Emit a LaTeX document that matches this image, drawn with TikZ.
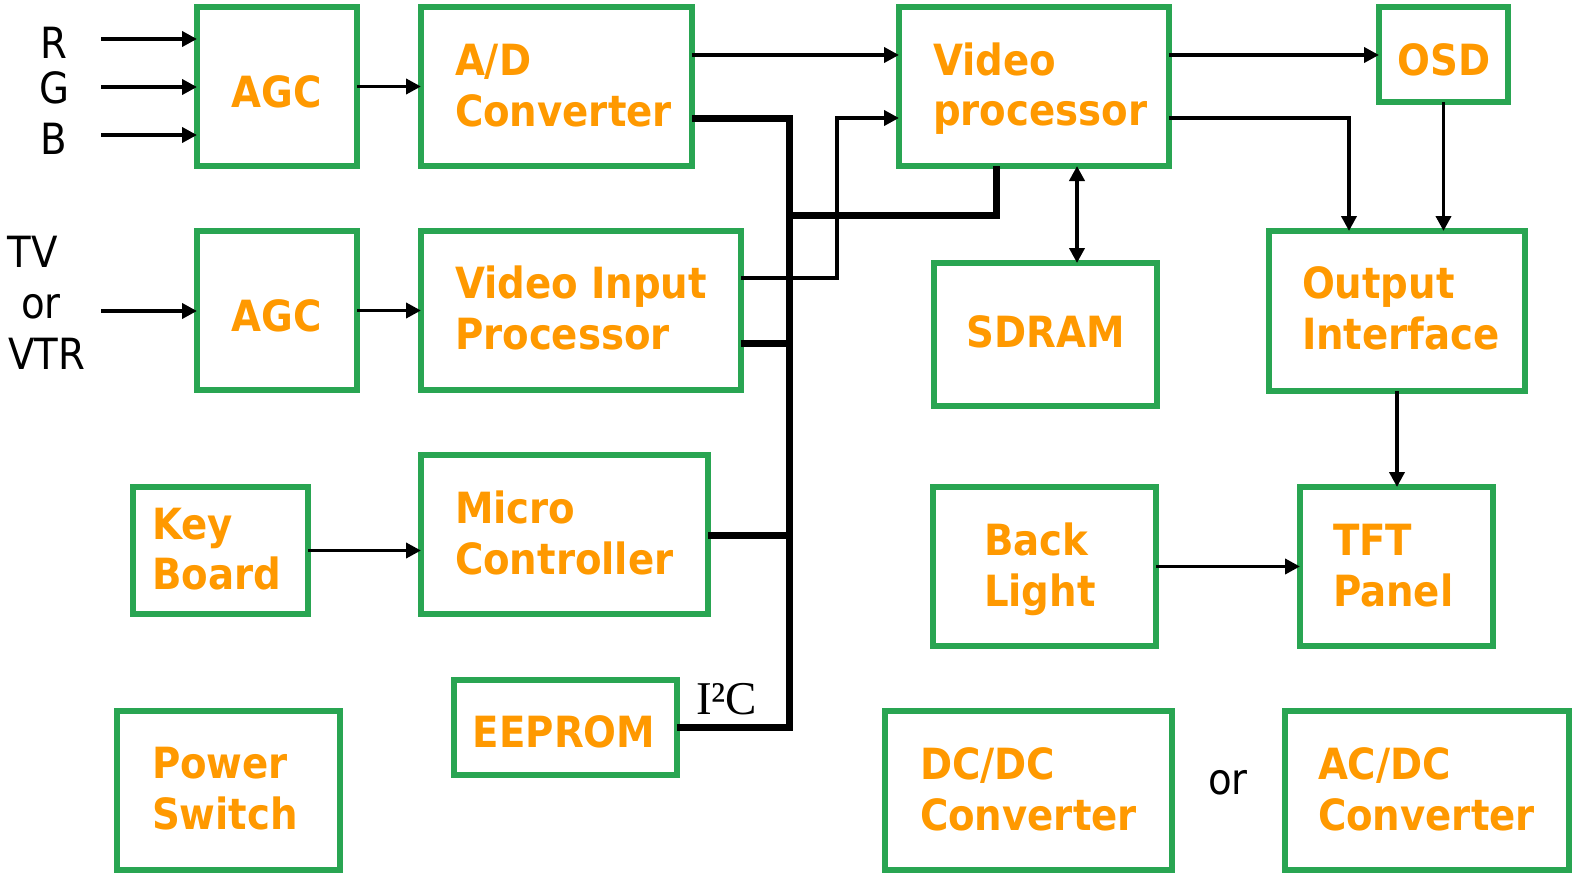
\documentclass[tikz,border=0pt]{standalone}
\usepackage{fontspec}
\setmainfont{DejaVu Sans Condensed}
\newfontfamily\serifI{Liberation Serif}
\usetikzlibrary{arrows.meta}
\definecolor{boxgreen}{RGB}{41,165,82}
\definecolor{txtorange}{RGB}{255,153,0}
\tikzset{
  blk/.style={draw=boxgreen, line width=6pt, inner sep=0pt, outer sep=0pt, fill=none},
  bt/.style={inner sep=0pt, outer sep=0pt, text=txtorange, font=\bfseries\fontsize{43}{51}\selectfont},
  lbl/.style={inner sep=0pt, outer sep=0pt, text=black, font=\fontsize{43}{51}\selectfont},
  arr/.style={line width=3.8pt, -{Triangle[length=15pt,width=15pt]}},
  darr/.style={line width=3.8pt, {Triangle[length=15pt,width=15pt]}-{Triangle[length=15pt,width=15pt]}},
  bus/.style={line width=7pt, line join=miter, line cap=butt}
}
\newcommand{\blkat}[5]{\node[blk, minimum width={(#4-#2)*1pt}, minimum height={(#5-#3)*1pt}] (#1) at ({(#2+#4)/2},{(#3+#5)/2}) {};}
\begin{document}
\begin{tikzpicture}[x=1pt,y=-1pt]
\useasboundingbox (0,0) rectangle (1575,875);
% boxes
\blkat{agc1}{197}{7}{357}{166}
\blkat{ad}{421}{7}{692}{166}
\blkat{vp}{899}{7}{1169}{166}
\blkat{osd}{1379}{7}{1508}{102}
\blkat{agc2}{197}{231}{357}{390}
\blkat{vip}{421}{231}{741}{390}
\blkat{sdram}{934}{263}{1157}{406}
\blkat{oi}{1269}{231}{1525}{391}
\blkat{kb}{133}{487}{308}{614}
\blkat{mc}{421}{455}{708}{614}
\blkat{bl}{933}{487}{1156}{646}
\blkat{tft}{1300}{487}{1493}{646}
\blkat{eeprom}{454}{680}{677}{775}
\blkat{ps}{117}{711}{340}{870}
\blkat{dcdc}{885}{711}{1172}{870}
\blkat{acdc}{1285}{711}{1569}{870}
% box texts
\node[bt, anchor=base] (agc1t) at (277,107) {AGC};
\node[bt, anchor=base west] (adt1) at (455,75) {A/D};
\node[bt, anchor=base west] (adt2) at (455,126) {Converter};
\node[bt, anchor=base west] (vpt1) at (933,75) {Video};
\node[bt, anchor=base west] (vpt2) at (933,125) {processor};
\node[bt, anchor=base] (osdt) at (1444,75) {OSD};
\node[bt, anchor=base] (agc2t) at (277,331) {AGC};
\node[bt, anchor=base west] (vipt1) at (455,298) {Video Input};
\node[bt, anchor=base west] (vipt2) at (455,349) {Processor};
\node[bt, anchor=base] (sdramt) at (1046,347) {SDRAM};
\node[bt, anchor=base west] (oit1) at (1302,298) {Output};
\node[bt, anchor=base west] (oit2) at (1302,349) {Interface};
\node[bt, anchor=base west] (kbt1) at (152,539) {Key};
\node[bt, anchor=base west] (kbt2) at (152,589) {Board};
\node[bt, anchor=base west] (mct1) at (455,523) {Micro};
\node[bt, anchor=base west] (mct2) at (455,574) {Controller};
\node[bt, anchor=base west] (blt1) at (984,555) {Back};
\node[bt, anchor=base west] (blt2) at (984,606) {Light};
\node[bt, anchor=base west] (tftt1) at (1333,555) {TFT};
\node[bt, anchor=base west] (tftt2) at (1333,606) {Panel};
\node[bt, anchor=base] (eepromt) at (564,747) {EEPROM};
\node[bt, anchor=base west] (pst1) at (152,778) {Power};
\node[bt, anchor=base west] (pst2) at (152,829) {Switch};
\node[bt, anchor=base west] (dct1) at (920,779) {DC/DC};
\node[bt, anchor=base west] (dct2) at (920,830) {Converter};
\node[bt, anchor=base west] (act1) at (1318,779) {AC/DC};
\node[bt, anchor=base west] (act2) at (1318,830) {Converter};
% plain labels
\node[lbl, anchor=base] (lr) at (54,59) {R};
\node[lbl, anchor=base] (lg) at (54,103) {G};
\node[lbl, anchor=base] (lb) at (54,154) {B};
\node[lbl, anchor=base] (ltv) at (33,267) {TV};
\node[lbl, anchor=base] (lor1) at (41,318) {or};
\node[lbl, anchor=base] (lvtr) at (47,369) {VTR};
\node[lbl, anchor=base] (lor2) at (1228,794) {or};
\node[inner sep=0pt, anchor=base west, font=\serifI\fontsize{47}{50}\selectfont] (li2c) at (696,714) {I²C};
% coordinates
\coordinate (rin) at (101,39);
\coordinate (gin) at (101,87);
\coordinate (bin) at (101,135);
\coordinate (tvin) at (101,311);
\coordinate (advp) at (800,55);
\coordinate (vposd) at (1250,55);
\coordinate (j1) at (837,278);
\coordinate (j2) at (837,118);
\coordinate (k1) at (1349,118);
\coordinate (m) at (1077,200);
\coordinate (busT) at (789,118);
\coordinate (busB) at (789,727);
\coordinate (busV) at (996,215);
\coordinate (vb) at (789,343);
\coordinate (mb) at (789,535);
% thin arrows
\draw[arr] (rin) -- (rin -| agc1.west);
\draw[arr] (gin) -- (gin -| agc1.west);
\draw[arr] (bin) -- (bin -| agc1.west);
\draw[arr] (tvin) -- (tvin -| agc2.west);
\draw[arr] (agc1.east) -- (agc1.east -| ad.west);
\draw[arr] (agc2.east) -- (agc2.east -| vip.west);
\draw[arr] (advp -| ad.east) -- (advp -| vp.west);
\draw[arr] (vposd -| vp.east) -- (vposd -| osd.west);
\draw[arr] (j1 -| vip.east) -- (j1) -- (j2) -- (j2 -| vp.west);
\draw[arr] (k1 -| vp.east) -- (k1) -- (k1 |- oi.north);
\draw[arr] (osd.south) -- (osd.south |- oi.north);
\draw[darr] (m |- vp.south) -- (m |- sdram.north);
\draw[arr] (oi.south) -- (oi.south |- tft.north);
\draw[arr] (kb.east) -- (kb.east -| mc.west);
\draw[arr] (bl.east) -- (bl.east -| tft.west);
% bus
\draw[bus] (busT -| ad.east) -- (busT) -- (busB) -- (busB -| eeprom.east);
\draw[bus] (busV -| busT) -- (busV) -- (busV |- vp.south);
\draw[bus] (vb -| vip.east) -- (vb);
\draw[bus] (mb -| mc.east) -- (mb);
\end{tikzpicture}
\end{document}
